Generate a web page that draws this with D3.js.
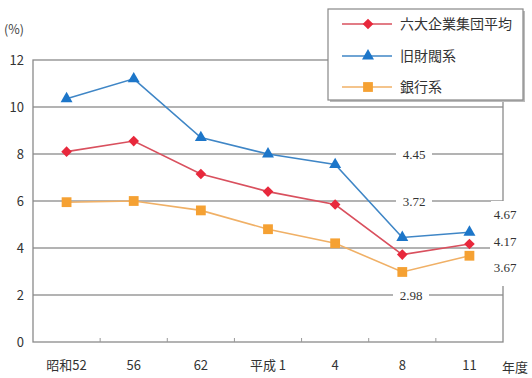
<!DOCTYPE html>
<html>
<head>
<meta charset="utf-8">
<script src="https://cdn.jsdelivr.net/npm/d3@7"></script>
<style>
	body { margin: 0; background: #fff; }
	svg { display: block; }
</style>
</head>
<body>
<svg id="chart" width="532" height="378"></svg>
<script>
// years (fiscal) and the three series, in %
var years = ["昭和52", "56", "62", "平成 1", "4", "8", "11"];
var rokudai = [8.1, 8.55, 7.15, 6.4, 5.85, 3.72, 4.17];
var kyuzaibatsu = [10.35, 11.2, 8.7, 8.0, 7.55, 4.45, 4.67];
var ginko = [5.95, 6.0, 5.6, 4.8, 4.2, 2.98, 3.67];
var seriesNames = ["六大企業集団平均", "旧財閥系", "銀行系"];
var yTicks = [0, 2, 4, 6, 8, 10, 12];

;(function(){
	var svg = d3.select("#chart");
	var font_sans = "'Noto Sans CJK JP', 'Noto Sans', sans-serif";
	var font_serif = "'Liberation Serif', 'DejaVu Serif', serif";

	var left = 33, right = 503, top = 60, bottom = 342;

	var x = d3.scaleBand().domain(years).range([left, right]).padding(0);
	var y = d3.scaleLinear().domain([0, 12]).range([bottom, top]);
	var cx = function(d){ return x(d) + x.bandwidth() / 2; };

	// rotated square if the d3 build has it, plain diamond otherwise
	var diamond = d3.symbolDiamond2 || d3.symbolDiamond;

	var series = [
		{ name: seriesNames[0], values: rokudai, line: "#d9505e", fill: "#e8283c", sym: diamond, size: 72 },
		{ name: seriesNames[1], values: kyuzaibatsu, line: "#3f86c6", fill: "#1d76c9", sym: d3.symbolTriangle, size: 62 },
		{ name: seriesNames[2], values: ginko, line: "#f0b066", fill: "#f5a133", sym: d3.symbolSquare, size: 96 }
	];

	// grid
	svg.append("g").selectAll("line.grid")
		.data([2, 4, 6, 8, 10])
		.enter().append("line")
			.attr("x1", left)
			.attr("x2", function(d){ return d == 4 ? 490 : right; })
			.attr("y1", function(d){ return y(d); })
			.attr("y2", function(d){ return y(d); })
			.attr("stroke", "#9a9a9a")
			.attr("stroke-width", 1.3);

	// frame
	svg.append("rect")
		.attr("x", left).attr("y", y(12))
		.attr("width", right - left).attr("height", y(0) - y(12))
		.attr("fill", "none")
		.attr("stroke", "#8a8a8a")
		.attr("stroke-width", 1.3);

	// small ticks between the years
	svg.append("g").selectAll("line.xtick")
		.data(years.slice(1))
		.enter().append("line")
			.attr("x1", function(d){ return x(d); })
			.attr("x2", function(d){ return x(d); })
			.attr("y1", bottom)
			.attr("y2", bottom - 4)
			.attr("stroke", "#999")
			.attr("stroke-width", 1);

	// y axis
	var yaxis = d3.axisLeft(y).tickValues(yTicks).tickSize(0).tickPadding(9);
	var gY = svg.append("g")
		.attr("transform", "translate(" + left + ",0)")
		.call(yaxis);
	gY.select(".domain").remove();
	gY.selectAll("text")
		.style("font-family", font_sans)
		.style("font-size", "13px")
		.attr("fill", "#333");

	svg.append("text")
		.attr("x", 4).attr("y", 34)
		.style("font-family", font_sans)
		.style("font-size", "12.5px")
		.attr("fill", "#444")
		.text("(%)");

	// x axis labels
	var xaxis = d3.axisBottom(x).tickSize(0).tickPadding(19);
	var gX = svg.append("g")
		.attr("transform", "translate(0," + bottom + ")")
		.call(xaxis);
	gX.select(".domain").remove();
	gX.selectAll("text")
		.style("font-family", font_sans)
		.style("font-size", "13px")
		.attr("fill", "#333");

	svg.append("text")
		.attr("x", 515).attr("y", 372)
		.attr("text-anchor", "middle")
		.style("font-family", font_sans)
		.style("font-size", "13px")
		.attr("fill", "#333")
		.text("年度");

	// annotations for 8 and 11
	var notes = [];
	notes.push({ t: d3.format(".2f")(kyuzaibatsu[5]), x: 414, y: y(8) });
	notes.push({ t: d3.format(".2f")(rokudai[5]), x: 414, y: y(6) });
	notes.push({ t: d3.format(".2f")(ginko[5]), x: 411, y: y(2) });

	svg.append("g").selectAll("rect.notebg")
		.data(notes)
		.enter().append("rect")
			.attr("x", function(d){ return d.x - 18; })
			.attr("y", function(d){ return d.y - 5; })
			.attr("width", 36)
			.attr("height", 10)
			.attr("fill", "#fff");

	// gap in the right border for the end labels
	svg.append("rect")
		.attr("x", 491).attr("y", 201)
		.attr("width", 41).attr("height", 85)
		.attr("fill", "#fff");

	svg.append("g").selectAll("text.note")
		.data(notes)
		.enter().append("text")
			.attr("x", function(d){ return d.x; })
			.attr("y", function(d){ return d.y + 4.5; })
			.attr("text-anchor", "middle")
			.style("font-family", font_serif)
			.style("font-size", "13px")
			.attr("fill", "#333")
			.text(function(d){ return d.t; });

	var endLabels = [
		{ t: d3.format(".2f")(kyuzaibatsu[6]), y: 214 },
		{ t: d3.format(".2f")(rokudai[6]), y: 241 },
		{ t: d3.format(".2f")(ginko[6]), y: 267 }
	];
	svg.append("g").selectAll("text.end")
		.data(endLabels)
		.enter().append("text")
			.attr("x", 505)
			.attr("y", function(d){ return d.y + 4.5; })
			.attr("text-anchor", "middle")
			.style("font-family", font_serif)
			.style("font-size", "13px")
			.attr("fill", "#333")
			.text(function(d){ return d.t; });

	// series
	var line = d3.line()
		.x(function(d, i){ return cx(years[i]); })
		.y(function(d){ return y(d); });

	var gS = svg.append("g");
	series.slice().reverse().forEach(function(s){
		gS.append("path")
			.attr("d", line(s.values))
			.attr("fill", "none")
			.attr("stroke", s.line)
			.attr("stroke-width", 1.6);
	});
	series.slice().reverse().forEach(function(s){
		gS.append("g").selectAll("path")
			.data(s.values)
			.enter().append("path")
				.attr("d", d3.symbol().type(s.sym).size(s.size))
				.attr("transform", function(d, i){ return "translate(" + cx(years[i]) + "," + y(d) + ")"; })
				.attr("fill", s.fill);
	});

	// legend
	var lg = svg.append("g");
	lg.append("rect")
		.attr("x", 330).attr("y", 11)
		.attr("width", 195).attr("height", 91)
		.attr("fill", "#bbb");
	lg.append("rect")
		.attr("x", 328).attr("y", 9)
		.attr("width", 195).attr("height", 91)
		.attr("fill", "#fff")
		.attr("stroke", "#888")
		.attr("stroke-width", 1.2);

	var rowY = [24, 56, 87];
	var items = lg.selectAll("g.item")
		.data(series)
		.enter().append("g")
			.attr("transform", function(d, i){ return "translate(0," + rowY[i] + ")"; });
	items.append("line")
		.attr("x1", 342).attr("x2", 392)
		.attr("stroke", function(d){ return d.line; })
		.attr("stroke-width", 1.6);
	items.append("path")
		.attr("d", function(d){ return d3.symbol().type(d.sym).size(d.size)(); })
		.attr("transform", "translate(368,0)")
		.attr("fill", function(d){ return d.fill; });
	items.append("text")
		.attr("x", 400).attr("y", 5)
		.style("font-family", font_sans)
		.style("font-size", "14px")
		.attr("fill", "#333")
		.text(function(d){ return d.name; });
})();
</script>
</body>
</html>
